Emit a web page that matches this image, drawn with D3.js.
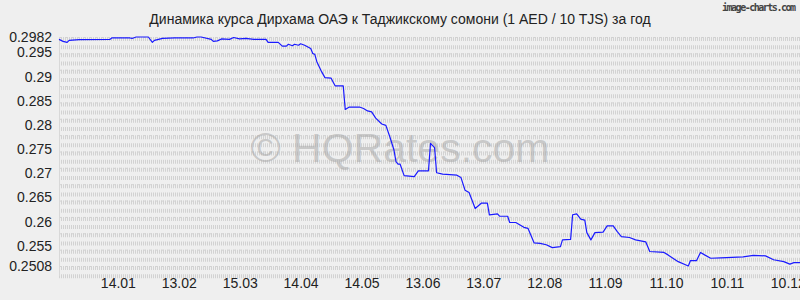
<!DOCTYPE html>
<html>
<head>
<meta charset="utf-8">
<script src="https://cdn.jsdelivr.net/npm/d3@7"></script>
<style>
  body { margin: 0; background: #efefef; }
  svg { display: block; font-family: 'Liberation Sans', Arial, sans-serif; }
</style>
</head>
<body>
<svg width="800" height="300"></svg>
<script>
// AED / TJS rate (dates of 2024-2025)
const dates = [
  '2024-12-16', '2024-12-18', '2024-12-20', '2024-12-21', '2024-12-26', '2025-01-10', '2025-01-11',
  '2025-01-20', '2025-01-21', '2025-01-23', '2025-01-29', '2025-01-31', '2025-02-01', '2025-02-05',
  '2025-02-11', '2025-02-20', '2025-02-22', '2025-02-24', '2025-03-01', '2025-03-02', '2025-03-04',
  '2025-03-06', '2025-03-10', '2025-03-12', '2025-03-15', '2025-03-18', '2025-03-22', '2025-03-28',
  '2025-03-29', '2025-04-03', '2025-04-05', '2025-04-07', '2025-04-08', '2025-04-10', '2025-04-11',
  '2025-04-13', '2025-04-14', '2025-04-16', '2025-04-19', '2025-04-20', '2025-04-21', '2025-04-22',
  '2025-04-24', '2025-04-26', '2025-04-29', '2025-04-30', '2025-05-01', '2025-05-05', '2025-05-06',
  '2025-05-08', '2025-05-13', '2025-05-15', '2025-05-17', '2025-05-19', '2025-05-21', '2025-05-24',
  '2025-05-26', '2025-05-28', '2025-05-30', '2025-05-31', '2025-06-01', '2025-06-02', '2025-06-04',
  '2025-06-09', '2025-06-11', '2025-06-16', '2025-06-17', '2025-06-19', '2025-06-20', '2025-06-23',
  '2025-06-30', '2025-07-02', '2025-07-04', '2025-07-06', '2025-07-09', '2025-07-12', '2025-07-15',
  '2025-07-16', '2025-07-20', '2025-07-21', '2025-07-25', '2025-07-26', '2025-07-29', '2025-08-02',
  '2025-08-04', '2025-08-07', '2025-08-10', '2025-08-13', '2025-08-16', '2025-08-20', '2025-08-21',
  '2025-08-25', '2025-08-26', '2025-08-28', '2025-08-30', '2025-09-01', '2025-09-02', '2025-09-04',
  '2025-09-06', '2025-09-10', '2025-09-12', '2025-09-15', '2025-09-17', '2025-09-19', '2025-09-23',
  '2025-09-26', '2025-10-01', '2025-10-03', '2025-10-10', '2025-10-12', '2025-10-17', '2025-10-22',
  '2025-10-23', '2025-10-26', '2025-10-28', '2025-10-30', '2025-11-02', '2025-11-07', '2025-11-18',
  '2025-11-23', '2025-11-29', '2025-12-03', '2025-12-08', '2025-12-11', '2025-12-13', '2025-12-16'
];
const rates = [
  0.2977, 0.2973, 0.2971, 0.2975, 0.29765, 0.2977, 0.2980,
  0.2980, 0.2979, 0.2982, 0.2982, 0.2971, 0.2975, 0.2979,
  0.2980, 0.2980, 0.2982, 0.2982, 0.2977, 0.2973, 0.2974,
  0.2978, 0.2977, 0.2981, 0.2978, 0.2979, 0.2977, 0.2977,
  0.2971, 0.2971, 0.2963, 0.2963, 0.2967, 0.2964, 0.2967,
  0.2965, 0.2968, 0.2965, 0.2958, 0.2948, 0.2946, 0.2931,
  0.2913, 0.2898, 0.2897, 0.2889, 0.2881, 0.2881, 0.2832,
  0.2837, 0.2837, 0.2834, 0.2829, 0.2827, 0.2814, 0.2802,
  0.2799, 0.2775, 0.2748, 0.2724, 0.2719, 0.2719, 0.2695,
  0.2693, 0.2705, 0.2705, 0.2762, 0.2753, 0.2701, 0.2698,
  0.2696, 0.2691, 0.2665, 0.2660, 0.2627, 0.2638, 0.2638,
  0.2614, 0.2616, 0.2611, 0.2611, 0.2598, 0.2598, 0.2588,
  0.2586, 0.2556, 0.2555, 0.2552, 0.2546, 0.2548, 0.2562,
  0.2563, 0.2614, 0.2616, 0.2605, 0.2603, 0.2577, 0.2562,
  0.2577, 0.2578, 0.2591, 0.2591, 0.2579, 0.2569, 0.2567,
  0.2562, 0.2558, 0.2538, 0.2536, 0.2531, 0.2517, 0.2508,
  0.2519, 0.2519, 0.2536, 0.2531, 0.2524, 0.2525, 0.2527,
  0.2530, 0.2529, 0.2521, 0.2517, 0.2512, 0.2515, 0.2515
];

const yTicks = [0.2508, 0.255, 0.26, 0.265, 0.27, 0.275, 0.28, 0.285, 0.29, 0.295, 0.2982];
const yTickLabels = ['0.2508', '0.255', '0.26', '0.265', '0.27', '0.275', '0.28', '0.285', '0.29', '0.295', '0.2982'];
const xTicks = ['2025-01-14', '2025-02-13', '2025-03-15', '2025-04-14', '2025-05-14', '2025-06-13',
  '2025-07-13', '2025-08-12', '2025-09-11', '2025-10-11', '2025-11-10', '2025-12-10'];
const xTickLabels = ['14.01', '13.02', '15.03', '14.04', '14.05', '13.06', '13.07', '12.08', '11.09', '11.10', '10.11', '10.12'];

const title = 'Динамика курса Дирхама ОАЭ к Таджикскому сомони (1 AED / 10 TJS) за год';

const parse = d3.utcParse('%Y-%m-%d');
const data = dates.map((d, i) => ({ date: parse(d), value: rates[i] }));

const svg = d3.select('svg');
const margin = { top: 37, right: 0, bottom: 34, left: 59 };
const width = +svg.attr('width');
const height = +svg.attr('height');

const x = d3.scaleUtc()
  .domain([parse('2024-12-16'), parse('2025-12-16')])
  .range([margin.left, width - margin.right]);
const y = d3.scaleLinear()
  .domain([yTicks[0], yTicks[yTicks.length - 1]])
  .range([height - margin.bottom, margin.top]);

// grid: rows of short vertical dashes
const nRows = 28;
const rowStep = (y.range()[0] - y.range()[1]) / nRows;
const rows = d3.range(nRows + 2).map(k => y.range()[1] + k * rowStep);
const grid = svg.append('g');
grid.selectAll('line.row')
  .data(rows)
  .join('line')
  .attr('class', 'row')
  .attr('x1', margin.left)
  .attr('x2', width)
  .attr('y1', d => d + 2)
  .attr('y2', d => d + 2)
  .attr('stroke', '#d2d2d2')
  .attr('stroke-width', 4)
  .attr('stroke-dasharray', '1,1');
grid.selectAll('line.top')
  .data(rows.filter((d, i) => i % 2 === 0))
  .join('line')
  .attr('class', 'top')
  .attr('x1', margin.left)
  .attr('x2', width)
  .attr('y1', d => d + 0.5)
  .attr('y2', d => d + 0.5)
  .attr('stroke', '#d2d2d2')
  .attr('stroke-width', 1)
  .attr('stroke-dasharray', '3,3');
grid.append('line')
  .attr('x1', margin.left + 0.5)
  .attr('x2', margin.left + 0.5)
  .attr('y1', margin.top)
  .attr('y2', height - margin.bottom + 10)
  .attr('stroke', '#d8d8d8');

// watermark
svg.append('text')
  .attr('x', 400)
  .attr('y', 162)
  .attr('text-anchor', 'middle')
  .attr('font-size', 41)
  .attr('fill', '#a8a8a8')
  .attr('fill-opacity', 0.55)
  .text('© HQRates.com');

// axes
const yAxis = svg.append('g')
  .attr('transform', `translate(${margin.left - 7},0)`)
  .call(d3.axisLeft(y).tickValues(yTicks).tickSize(0).tickPadding(0)
    .tickFormat((d, i) => yTickLabels[i]));
yAxis.select('.domain').remove();
yAxis.selectAll('text')
  .attr('font-family', "'Liberation Sans', Arial, sans-serif")
  .attr('font-size', 14)
  .attr('fill', '#222');

const xAxis = svg.append('g')
  .attr('transform', `translate(0,${height - 22})`)
  .call(d3.axisBottom(x).tickValues(xTicks.map(parse)).tickSize(0).tickPadding(0)
    .tickFormat((d, i) => xTickLabels[i]));
xAxis.select('.domain').remove();
xAxis.selectAll('text')
  .attr('font-family', "'Liberation Sans', Arial, sans-serif")
  .attr('font-size', 14)
  .attr('fill', '#222');

// line
const line = d3.line()
  .x(d => x(d.date))
  .y(d => y(d.value));

svg.append('path')
  .datum(data)
  .attr('fill', 'none')
  .attr('stroke', '#1a1aff')
  .attr('stroke-width', 1.2)
  .attr('stroke-linejoin', 'round')
  .attr('d', line);

// title
svg.append('text')
  .attr('x', 400)
  .attr('y', 24)
  .attr('text-anchor', 'middle')
  .attr('font-size', 14)
  .attr('fill', '#222')
  .text(title);

svg.append('text')
  .attr('x', 796)
  .attr('y', 11)
  .attr('text-anchor', 'end')
  .attr('font-family', "'DejaVu Sans Mono', monospace")
  .attr('font-size', 10)
  .attr('font-weight', 'bold')
  .attr('fill', '#444')
  .attr('textLength', 74)
  .text('image-charts.com');
</script>
</body>
</html>
